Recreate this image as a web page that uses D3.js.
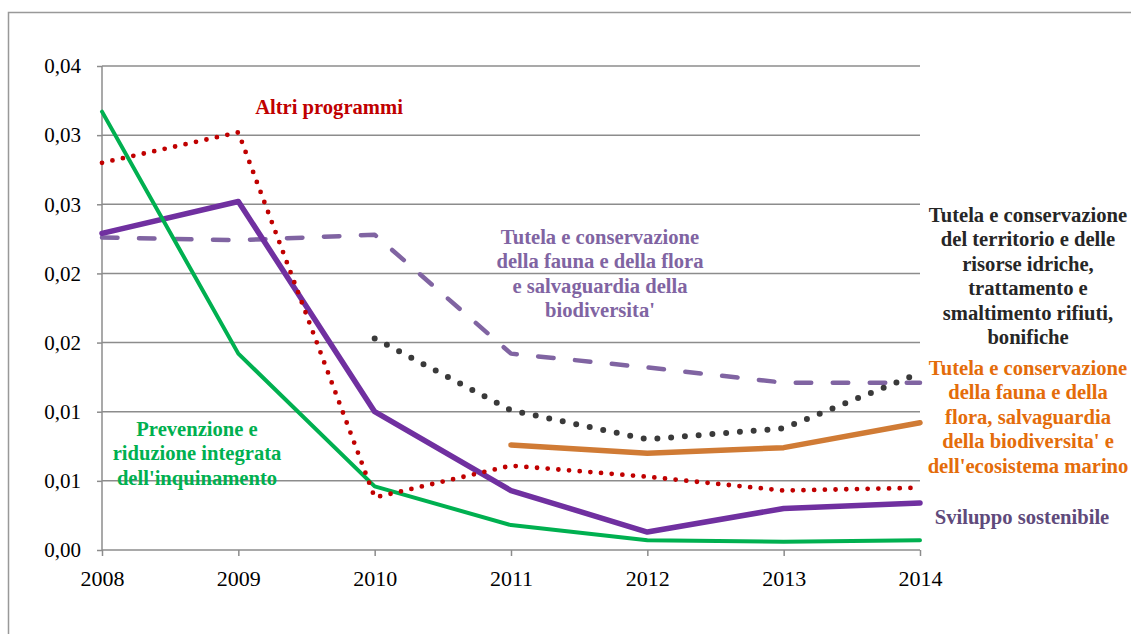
<!DOCTYPE html>
<html>
<head>
<meta charset="utf-8">
<script src="https://cdn.jsdelivr.net/npm/d3@7"></script>
<style>
  body { margin: 0; background: #fff; }
</style>
</head>
<body>
<script>
// dati
var anni = [2008, 2009, 2010, 2011, 2012, 2013, 2014];
var yTicks = [0, 0.005, 0.01, 0.015, 0.02, 0.025, 0.03, 0.035];
var yTickLabels = ["0,00", "0,01", "0,01", "0,02", "0,02", "0,03", "0,03", "0,04"];

var prevenzione = [0.0317, 0.0142, 0.0046, 0.0018, 0.0007, 0.0006, 0.0007];
var sviluppo = [0.0229, 0.0252, 0.0100, 0.0043, 0.0013, 0.0030, 0.0034];
var altri = [0.0280, 0.0302, 0.0038, 0.0061, 0.0053, 0.0043, 0.0045];
var faunaFlora = [0.0226, 0.0224, 0.0228, 0.0142, 0.0132, 0.0121, 0.0121];
var territorio = [null, null, 0.0153, 0.0101, 0.0080, 0.0088, 0.0128];
var marino = [null, null, null, 0.0076, 0.0070, 0.0074, 0.0092];

var FONT = "'Liberation Serif', 'Times New Roman', serif";
var W = 1131, H = 634;
var svg = d3.select("body").append("svg")
  .attr("width", W)
  .attr("height", H)
  .style("font-family", FONT);

// cornice del grafico
svg.append("rect")
  .attr("x", 8.5).attr("y", 12.5)
  .attr("width", W + 20).attr("height", H + 20)
  .attr("fill", "none")
  .attr("stroke", "#999")
  .attr("stroke-width", 1.5);

var x = d3.scaleLinear().domain([2008, 2014]).range([102, 920]);
var y = d3.scaleLinear().domain([0, 0.035]).range([550, 66]);

// griglia orizzontale
svg.append("g")
  .selectAll("line")
  .data(yTicks.slice(1))
  .enter()
  .append("line")
  .attr("x1", x(2008)).attr("x2", x(2014))
  .attr("y1", d => y(d)).attr("y2", d => y(d))
  .attr("stroke", "#8c8c8c")
  .attr("stroke-width", 1.5);

// asse y
var yAxis = svg.append("g")
  .attr("transform", "translate(" + x(2008) + ",0)")
  .call(d3.axisLeft(y).tickValues(yTicks).tickSize(5).tickPadding(16)
    .tickFormat((d, i) => yTickLabels[i]));
yAxis.select(".domain").attr("stroke", "#8c8c8c").attr("stroke-width", 1.5).attr("d", "M0," + y(0.035) + "V" + y(0));
yAxis.selectAll(".tick line").attr("stroke", "#8c8c8c").attr("stroke-width", 1.5);
yAxis.selectAll(".tick text")
  .style("font-family", FONT)
  .attr("font-size", 21)
  .attr("fill", "#000");

// asse x
var xAxis = svg.append("g")
  .attr("transform", "translate(0," + y(0) + ")")
  .call(d3.axisBottom(x).tickValues(anni).tickSize(6).tickPadding(14)
    .tickFormat(d3.format("d")));
xAxis.select(".domain").attr("stroke", "#8c8c8c").attr("stroke-width", 1.5).attr("d", "M" + x(2008) + ",0H" + x(2014));
xAxis.selectAll(".tick line").attr("stroke", "#8c8c8c").attr("stroke-width", 1.5);
xAxis.selectAll(".tick text")
  .style("font-family", FONT)
  .attr("font-size", 22)
  .attr("fill", "#000");

var line = d3.line()
  .defined(d => d != null)
  .x((d, i) => x(anni[i]))
  .y(d => y(d));

function serie(valori, colore, spessore, dash) {
  svg.append("path")
    .datum(valori)
    .attr("d", line)
    .attr("fill", "none")
    .attr("stroke", colore)
    .attr("stroke-width", spessore)
    .attr("stroke-linejoin", "round")
    .attr("stroke-linecap", "round")
    .attr("stroke-dasharray", dash || null);
}

serie(faunaFlora, "#8064a2", 4.5, "15.5 21.5");
serie(territorio, "#3a3a3a", 6, "0 13.8");
serie(marino, "#d07b35", 5.5);
serie(sviluppo, "#7030a0", 5.5);
serie(prevenzione, "#00b050", 4);
serie(altri, "#c00000", 4.8, "0 10.7");

// etichette delle serie
function etichetta(righe, cx, y0, colore) {
  var t = svg.append("text")
    .style("font-family", FONT)
    .attr("text-anchor", "middle")
    .attr("font-weight", "bold")
    .attr("font-size", 20.6)
    .attr("fill", colore);
  righe.forEach(function (r, i) {
    t.append("tspan").attr("x", cx).attr("y", y0 + i * 24.4).text(r);
  });
}

etichetta(["Altri programmi"], 329, 114, "#c00000");
etichetta(["Tutela e conservazione", "della fauna e della flora", "e salvaguardia della", "biodiversita'"], 600, 244, "#8064a2");
etichetta(["Tutela e conservazione", "del territorio  e delle", "risorse idriche,", "trattamento e", "smaltimento rifiuti,", "bonifiche"], 1028, 222, "#262626");
etichetta(["Tutela e conservazione", "della fauna e della", "flora, salvaguardia", "della biodiversita' e", "dell'ecosistema marino"], 1028, 375, "#e46c0a");
etichetta(["Sviluppo sostenibile"], 1022, 524, "#604a7b");
etichetta(["Prevenzione e", "riduzione integrata", "dell'inquinamento"], 197, 436, "#00b050");
</script>
</body>
</html>
